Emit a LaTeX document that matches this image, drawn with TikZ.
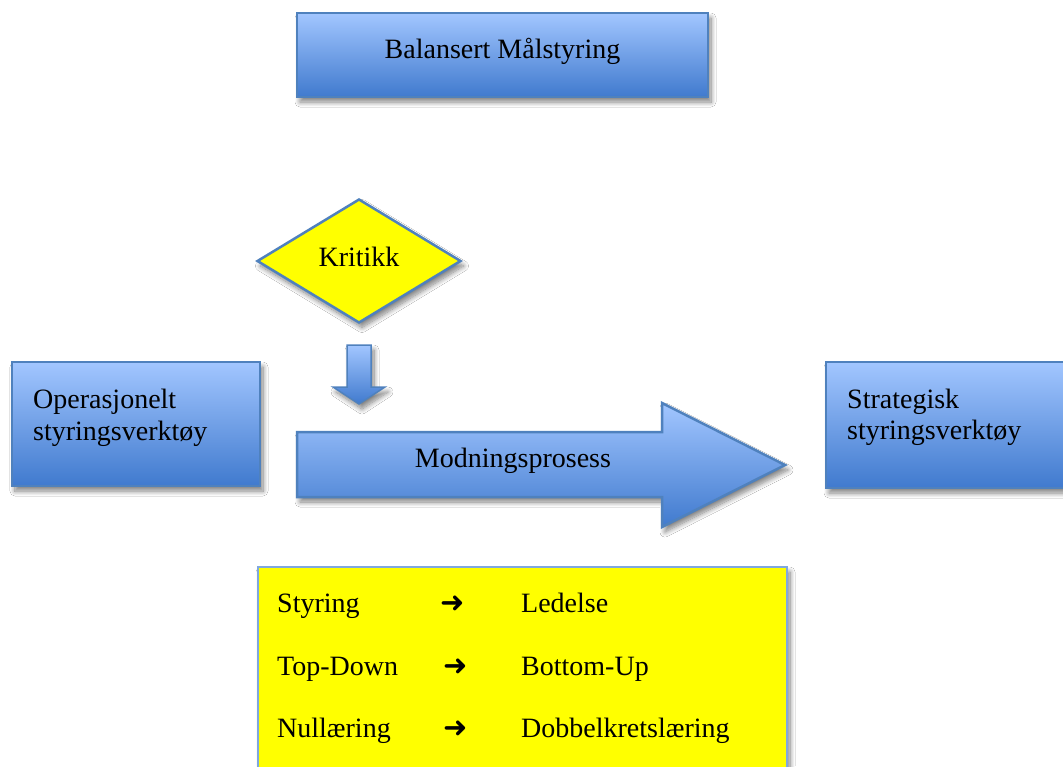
\documentclass[tikz,border=0pt]{standalone}
\usepackage{fontspec}
\setmainfont{Liberation Serif}
\newfontfamily\arrowfont{DejaVu Sans}
\usetikzlibrary{shapes.geometric,shadows.blur}

\definecolor{boxtop}{RGB}{162,198,255}
\definecolor{boxbot}{RGB}{64,122,206}
\definecolor{boxedge}{RGB}{79,129,189}
\definecolor{noteedge}{RGB}{128,168,222}
\definecolor{notefill}{RGB}{255,255,0}

\begin{document}
\begin{tikzpicture}[x=1pt,y=-1pt,
  font=\fontsize{28}{33}\selectfont,
  softshadow/.style={blur shadow={shadow xshift=3pt,shadow yshift=-5pt,
      shadow blur radius=5pt,shadow blur steps=10,shadow opacity=50}},
  bluebox/.style={draw=boxedge,line width=2.5pt,top color=boxtop,
      bottom color=boxbot,softshadow},
  txt/.style={inner sep=0pt,anchor=base west},
  arr/.style={inner sep=0pt,anchor=base west,font=\arrowfont\fontsize{29}{33}\selectfont},
]
\clip (0,0) rectangle (1063,766);
\fill[white] (0,0) rectangle (1063,766);

% title box
\node[bluebox,minimum width=411pt,minimum height=84pt] (bsc) at (502.5,55) {};
\node[txt,anchor=base] (bsctext) at (502.5,58) {Balansert Målstyring};

% criticism diamond and its block arrow
\node[diamond,draw=boxedge,line width=2.5pt,fill=notefill,softshadow,text depth=8pt,
      minimum width=204pt,minimum height=124pt,inner sep=0pt] (krit) at (359,261) {Kritikk};
\path[bluebox,line width=1.5pt] (347,345) -- (371,345) -- (371,387) -- (385,387)
  -- (359,404) -- (333,387) -- (347,387) -- cycle;

% left and right boxes
\node[bluebox,minimum width=248pt,minimum height=124pt] (oper) at (136,424) {};
\node[txt] (operA) at (33,408) {Operasjonelt};
\node[txt] (operB) at (33,440) {styringsverktøy};

\node[bluebox,minimum width=270pt,minimum height=126pt] (strat) at (961,425) {};
\node[txt] (stratA) at (847,408) {Strategisk};
\node[txt] (stratB) at (847,439) {styringsverktøy};

% maturing process block arrow
\path[bluebox] (297,432) -- (662,432) -- (662,403) -- (785,465) -- (662,527)
  -- (662,497) -- (297,497) -- cycle;
\node (mod) at (513,461) {Modningsprosess};

% yellow note
\node[draw=noteedge,line width=2pt,fill=notefill,softshadow,anchor=north west,
      minimum width=529pt,minimum height=240pt,inner sep=0pt] (note) at (257,566) {};
\node[txt] (r1a) at (277,612) {Styring};
\node[arr] (r1b) at (440,612) {➜};
\node[txt] (r1c) at (521,612) {Ledelse};
\node[txt] (r2a) at (277,675) {Top-Down};
\node[arr] (r2b) at (443,675) {➜};
\node[txt] (r2c) at (521,675) {Bottom-Up};
\node[txt] (r3a) at (277,737) {Nullæring};
\node[arr] (r3b) at (443,737) {➜};
\node[txt] (r3c) at (521,737) {Dobbelkretslæring};
\end{tikzpicture}
\end{document}
